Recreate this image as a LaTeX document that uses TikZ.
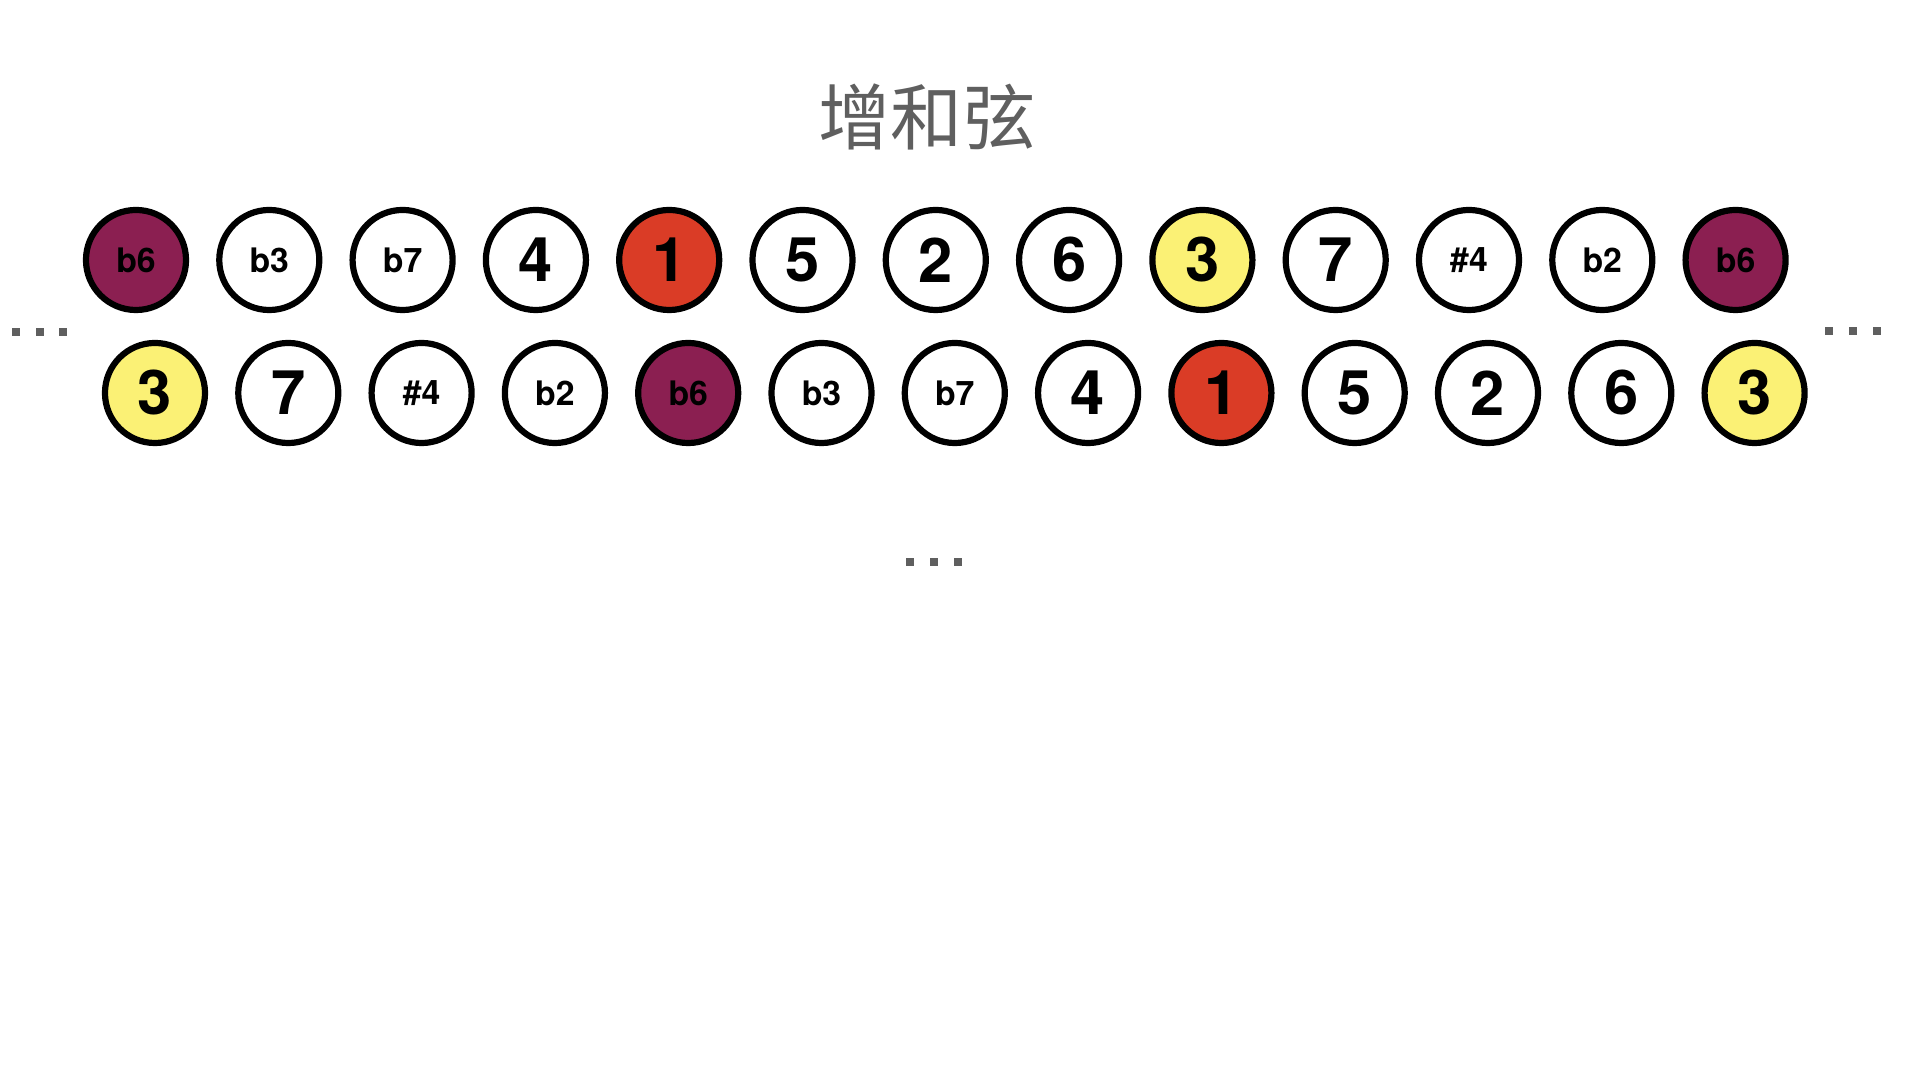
\documentclass[tikz,border=0pt]{standalone}
\usepackage{fontspec}
\setsansfont{TeX Gyre Heros}
\newfontfamily\cjk{Noto Sans CJK SC}
\usetikzlibrary{positioning}

\definecolor{plum}{HTML}{8B1F51}
\definecolor{tonic}{HTML}{DA3C26}
\definecolor{third}{HTML}{FBF175}
\definecolor{dotgray}{HTML}{5F5F5F}

\begin{document}
\begin{tikzpicture}[x=0.01cm,y=-0.01cm,
  tone/.style={circle,draw,line width=0.062cm,minimum size=1cm,inner sep=0pt},
  big/.style={tone,font=\sffamily\bfseries\fontsize{17.5}{18}\selectfont},
  small/.style={tone,font=\sffamily\bfseries\fontsize{9.6}{10}\selectfont}]
  \useasboundingbox (0,0) rectangle (1920,1080);

  \node[font=\cjk\fontsize{20.5}{24}\selectfont,text=dotgray] (title) at (927,117) {增和弦};

  % upper row
  \foreach \lab/\sty/\col [count=\i from 0] in
    {b6/small/plum, b3/small/white, b7/small/white, 4/big/white, 1/big/tonic,
     5/big/white, 2/big/white, 6/big/white, 3/big/third, 7/big/white,
     \#4/small/white, b2/small/white, b6/small/plum}
    \node[\sty,fill=\col] (t\i) at (136+133.3*\i,260) {\lab};

  % lower row
  \foreach \lab/\sty/\col [count=\i from 0] in
    {3/big/third, 7/big/white, \#4/small/white, b2/small/white, b6/small/plum,
     b3/small/white, b7/small/white, 4/big/white, 1/big/tonic, 5/big/white,
     2/big/white, 6/big/white, 3/big/third}
    \node[\sty,fill=\col] (b\i) at (155+133.3*\i,393) {\lab};

  % ellipses
  \foreach \x/\y in {16/332,40/332,63/332,1829/331,1853/331,1877/331,910/562,934/562,958/562}
    \fill[dotgray] (\x-4.25,\y-4.25) rectangle ++(8.5,8.5);
\end{tikzpicture}
\end{document}
